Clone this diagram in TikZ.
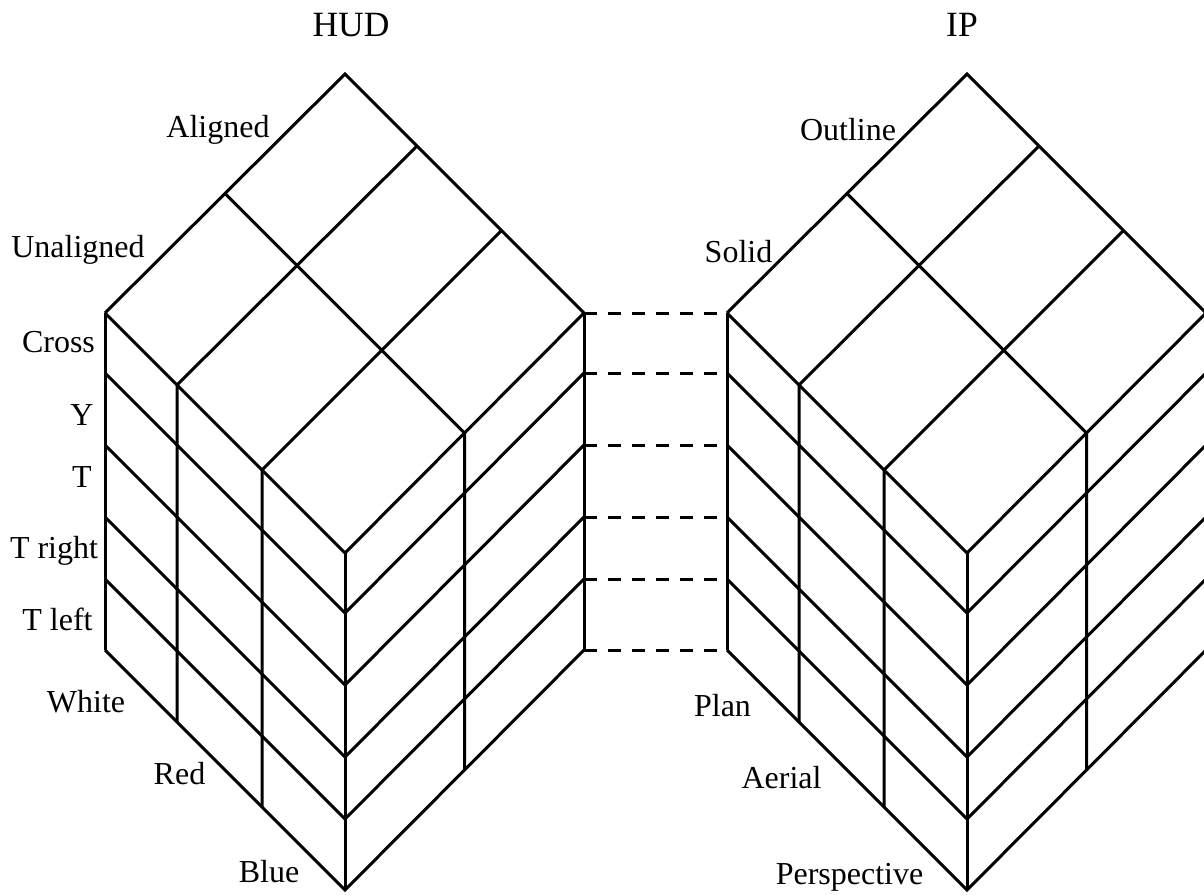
\documentclass[tikz,border=0pt]{standalone}
\usepackage{fontspec}
\setmainfont{Liberation Serif}
\begin{document}
\begin{tikzpicture}[x=1pt,y=-1pt,
  edge/.style={line width=3pt},
  link/.style={line width=3pt, dash pattern=on 13pt off 11pt},
  lbl/.style={font=\fontsize{32}{32}\selectfont, anchor=base, inner sep=0pt},
  ttl/.style={font=\fontsize{35.5}{36}\selectfont, anchor=base, inner sep=0pt}]
\useasboundingbox (0,0) rectangle (1204,894);
\clip (0,0) rectangle (1204,894);
% two boxes: HUD (h) and IP (p)
\foreach \ox/\n in {0/h,622/p}{
  \begin{scope}[shift={(\ox,0)}]
    \coordinate (\n T) at (345,74);
    \coordinate (\n mTL) at (225,193.5);
    \coordinate (\n mFR) at (464.5,433);
    \coordinate (\n mFRb) at (464.5,770.5);
    \coordinate (\n P1) at (177,385);
    \coordinate (\n P1b) at (177,722);
    \coordinate (\n Q1) at (417,146);
    \coordinate (\n P2) at (262,470);
    \coordinate (\n P2b) at (262,807);
    \coordinate (\n Q2) at (502,230);
    \foreach \y [count=\i] in {313,373,445,517,579,650}{
      \coordinate (\n l\i) at (105,\y);
      \coordinate (\n f\i) at (345,\y+240);
      \coordinate (\n r\i) at (584,\y);
    }
  \end{scope}
  % outline
  \draw[edge] (\n l1) -- (\n T) -- (\n r1);
  \draw[edge] (\n l1) -- (\n l6);
  \draw[edge] (\n f1) -- (\n f6);
  \draw[edge] (\n r1) -- (\n r6);
  % top face grid
  \draw[edge] (\n mTL) -- (\n mFR) -- (\n mFRb);
  \draw[edge] (\n P1b) -- (\n P1) -- (\n Q1);
  \draw[edge] (\n P2b) -- (\n P2) -- (\n Q2);
  % layers
  \foreach \i in {1,...,6}{
    \draw[edge] (\n l\i) -- (\n f\i) -- (\n r\i);
  }
}
% dashed links between the boxes
\foreach \i in {1,...,6}{
  \draw[link] (hr\i) -- (pl\i);
}
% titles
\node[ttl] (tHUD) at (351,36.5) {HUD};
\node[ttl] (tIP) at (962,36.5) {IP};
% HUD labels
\node[lbl] (aligned) at (218,137) {Aligned};
\node[lbl] (unaligned) at (78,257.3) {Unaligned};
\node[lbl] (cross) at (58.5,352.6) {Cross};
\node[lbl] (ylab) at (82,425) {Y};
\node[lbl] (tlab) at (82,487) {T};
\node[lbl] (tright) at (54,558.6) {T right};
\node[lbl] (tleft) at (57.5,630.6) {T left};
\node[lbl] (white) at (86,712.6) {White};
\node[lbl] (red) at (179.5,784.6) {Red};
\node[lbl] (blue) at (269,882) {Blue};
% IP labels
\node[lbl] (outline) at (848,140.5) {Outline};
\node[lbl] (solid) at (738.5,262.6) {Solid};
\node[lbl] (plan) at (722.5,716) {Plan};
\node[lbl] (aerial) at (781.5,788.3) {Aerial};
\node[lbl] (persp) at (849.5,884) {Perspective};
\end{tikzpicture}
\end{document}
